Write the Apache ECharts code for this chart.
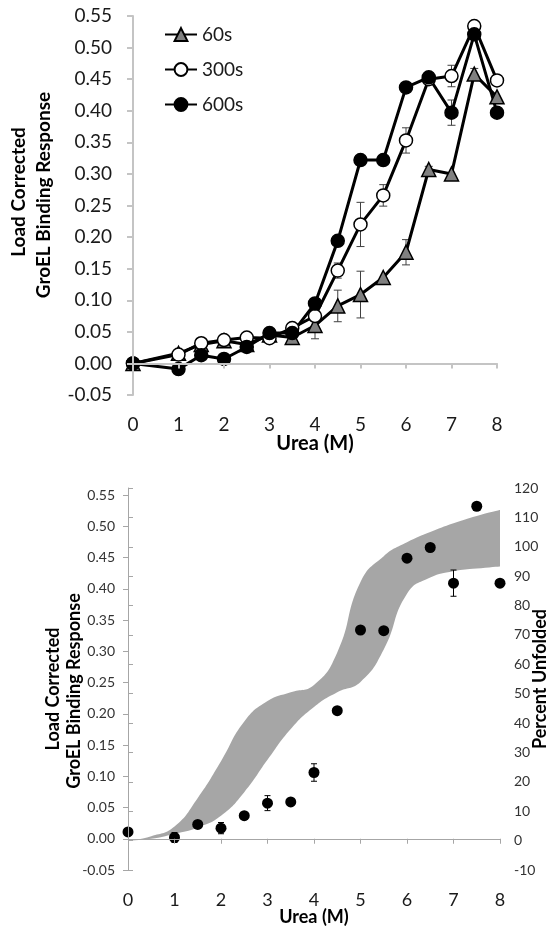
<!DOCTYPE html>
<html><head><meta charset="utf-8">
<script src="https://cdn.jsdelivr.net/npm/echarts@6/dist/echarts.min.js"></script>
<style>html,body{margin:0;padding:0;background:#fff}#c{width:555px;height:935px}</style>
</head><body><div id="c"></div>
<script>
// ---------- Top chart data ----------
const urea   = [0, 1, 1.5, 2, 2.5, 3, 3.5, 4, 4.5, 5, 5.5, 6, 6.5, 7, 7.5, 8];
const s60    = [0.000, 0.016, 0.030, 0.036, 0.030, 0.045, 0.041, 0.060, 0.091, 0.109, 0.136, 0.176, 0.307, 0.300, 0.458, 0.422];
const s60Err = [0, 0, 0, 0, 0, 0, 0, 0.021, 0.025, 0.037, 0, 0.020, 0.005, 0, 0.009, 0];
const s300   = [0.000, 0.014, 0.032, 0.037, 0.041, 0.040, 0.056, 0.075, 0.147, 0.220, 0.266, 0.353, 0.450, 0.455, 0.534, 0.448];
const s300Err= [0, 0, 0, 0, 0, 0.005, 0, 0, 0.012, 0.035, 0.017, 0.020, 0, 0.017, 0, 0];
const s600   = [0.000, -0.009, 0.013, 0.007, 0.026, 0.048, 0.048, 0.095, 0.194, 0.322, 0.322, 0.437, 0.453, 0.397, 0.521, 0.397];
const s600Err= [0, 0, 0, 0, 0, 0.007, 0, 0.007, 0, 0, 0, 0, 0, 0.020, 0, 0];
const seriesNames = ['60s', '300s', '600s'];

// ---------- Bottom chart data ----------
const bindX   = [0, 1, 1.5, 2, 2.5, 3, 3.5, 4, 4.5, 5, 5.5, 6, 6.5, 7, 7.5, 8];
const binding = [0.011, 0.002, 0.023, 0.017, 0.037, 0.057, 0.059, 0.106, 0.205, 0.334, 0.333, 0.449, 0.466, 0.409, 0.532, 0.409];
const bindErr = [0, 0.008, 0, 0.009, 0, 0.012, 0, 0.014, 0, 0, 0, 0.004, 0, 0.021, 0, 0];
const bandX     = [0, 0.5, 1, 1.5, 2, 2.5, 3, 3.5, 4, 4.5, 5, 5.5, 6, 6.5, 7, 7.5, 8];
const bandUpper = [0, 1.5, 4.8, 14.5, 27, 40.5, 47.5, 50.5, 53, 64, 88, 96.8, 101.5, 105, 108, 110.5, 112.5];
const bandLower = [0, 0.6, 2.3, 4.5, 8.5, 16.5, 27.5, 38, 45.5, 50.5, 54, 65, 84, 89.5, 91.7, 92.6, 93.3];

const FONT = 'Lato';

function errSeries(xs, ys, es, xi, yi, cap, color, z) {
  const data = xs.map((x, i) => [x, ys[i], es[i]]).filter(d => d[2] > 0);
  return {
    type: 'custom', xAxisIndex: xi, yAxisIndex: yi, silent: true, z: z,
    data: data,
    renderItem: function (params, api) {
      const x = api.value(0), y = api.value(1), e = api.value(2);
      const t = api.coord([x, y + e]), b = api.coord([x, y - e]);
      const w = cap / 2;
      const st = { stroke: color, lineWidth: 1 };
      return { type: 'group', children: [
        { type: 'line', shape: { x1: t[0], y1: t[1], x2: b[0], y2: b[1] }, style: st },
        { type: 'line', shape: { x1: t[0] - w, y1: t[1], x2: t[0] + w, y2: t[1] }, style: st },
        { type: 'line', shape: { x1: b[0] - w, y1: b[1], x2: b[0] + w, y2: b[1] }, style: st }
      ]};
    }
  };
}

function lineSeries(name, ys, symbol, size, fill) {
  return {
    name: name, type: 'line', xAxisIndex: 0, yAxisIndex: 0, z: 3,
    data: urea.map((x, i) => [x, ys[i]]),
    symbol: symbol, symbolSize: size, showAllSymbol: true,
    lineStyle: { color: '#000', width: 3 },
    itemStyle: { color: fill, borderColor: '#000', borderWidth: 1.5 },
    emphasis: { disabled: true }
  };
}

function bandEdge(ys, color, z) {
  return {
    type: 'line', xAxisIndex: 2, yAxisIndex: 2, smooth: 0.5,
    symbol: 'none', silent: true, z: z,
    data: bandX.map((x, i) => [x, ys[i]]),
    lineStyle: { width: 0, opacity: 0 },
    areaStyle: { color: color, opacity: 1, origin: 'start' },
    emphasis: { disabled: true }
  };
}

const chart = echarts.init(document.getElementById('c'), null, { renderer: 'canvas' });
const topAxisLine = { show: true, lineStyle: { color: '#c4c4c4', width: 2 } };
const botAxisLine = { show: true, lineStyle: { color: '#a6a6a6', width: 1 } };

chart.setOption({
  animation: false,
  backgroundColor: '#fff',
  textStyle: { fontFamily: FONT },
  grid: [
    { left: 133, right: 58, top: 16, bottom: 540 },
    { left: 128, right: 55, top: 495, bottom: 65 },
    { left: 128, right: 55, top: 488, bottom: 65 }
  ],
  legend: {
    data: seriesNames, orient: 'vertical', left: 159, top: 20,
    itemWidth: 32, itemHeight: 16, itemGap: 16,
    textStyle: { fontFamily: FONT, fontSize: 19, color: '#1a1a1a' },
    selectedMode: false
  },
  xAxis: [
    { gridIndex: 0, type: 'value', min: 0, max: 8, interval: 1, z: 10,
      axisLine: topAxisLine, axisTick: { show: true, length: 5, lineStyle: { color: '#c4c4c4', width: 2 } },
      axisLabel: { fontSize: 19, color: '#1a1a1a', margin: 20, fontFamily: FONT },
      splitLine: { show: false } },
    { gridIndex: 1, type: 'value', min: 0, max: 8, interval: 1, z: 10,
      axisLine: botAxisLine, axisTick: { show: true, length: 5, lineStyle: { color: '#a6a6a6' } },
      axisLabel: { fontSize: 18, color: '#1a1a1a', margin: 21, fontFamily: FONT },
      splitLine: { show: false } },
    { gridIndex: 2, type: 'value', min: 0, max: 8, interval: 1, show: false }
  ],
  yAxis: [
    { gridIndex: 0, type: 'value', min: -0.05, max: 0.55, interval: 0.05, z: 10,
      axisLine: topAxisLine, axisTick: { show: true, length: 6, lineStyle: { color: '#c4c4c4', width: 2 } },
      axisLabel: { fontSize: 19, color: '#1a1a1a', margin: 21, fontFamily: FONT, formatter: v => v.toFixed(2) },
      splitLine: { show: false } },
    { gridIndex: 1, type: 'value', min: -0.05, max: 0.55, interval: 0.05, z: 10,
      axisLine: botAxisLine, axisTick: { show: true, length: 5, lineStyle: { color: '#a6a6a6' } },
      axisLabel: { fontSize: 14, color: '#333', margin: 13, fontFamily: FONT, formatter: v => v.toFixed(2) },
      splitLine: { show: false } },
    { gridIndex: 2, type: 'value', position: 'right', min: -10, max: 120, interval: 10, z: 10,
      axisLine: botAxisLine, axisTick: { show: true, length: 5, lineStyle: { color: '#a6a6a6' } },
      axisLabel: { fontSize: 14, color: '#333', margin: 14, fontFamily: FONT },
      splitLine: { show: false } }
  ],
  series: [
    errSeries(urea, s60, s60Err, 0, 0, 8, '#404040', 1),
    errSeries(urea, s300, s300Err, 0, 0, 8, '#404040', 1),
    errSeries(urea, s600, s600Err, 0, 0, 8, '#404040', 1),
    lineSeries('60s', s60, 'triangle', 14, '#808080'),
    lineSeries('300s', s300, 'circle', 13, '#ffffff'),
    lineSeries('600s', s600, 'circle', 13, '#000000'),
    // band (percent unfolded, right axis): grey under upper edge, white under lower edge
    bandEdge(bandUpper, '#a6a6a6', 1),
    bandEdge(bandLower, '#ffffff', 2),
    errSeries(bindX, binding, bindErr, 1, 1, 6, '#000', 4),
    { type: 'scatter', xAxisIndex: 1, yAxisIndex: 1, z: 5, symbol: 'circle', symbolSize: 11,
      data: bindX.map((x, i) => [x, binding[i]]), itemStyle: { color: '#000', opacity: 1 },
      emphasis: { disabled: true } }
  ],
  graphic: [
    { type: 'text', x: 19, y: 192, rotation: Math.PI / 2,
      style: { text: 'Load Corrected', font: 'bold 19px ' + FONT, fill: '#000', align: 'center', verticalAlign: 'middle' } },
    { type: 'text', x: 44, y: 195, rotation: Math.PI / 2,
      style: { text: 'GroEL Binding Response', font: 'bold 19px ' + FONT, fill: '#000', align: 'center', verticalAlign: 'middle' } },
    { type: 'text', x: 315, y: 444,
      style: { text: 'Urea (M)', font: 'bold 20px ' + FONT, fill: '#000', align: 'center', verticalAlign: 'middle' } },
    { type: 'text', x: 53, y: 689, rotation: Math.PI / 2,
      style: { text: 'Load Corrected', font: 'bold 18px ' + FONT, fill: '#000', align: 'center', verticalAlign: 'middle' } },
    { type: 'text', x: 74, y: 691, rotation: Math.PI / 2,
      style: { text: 'GroEL Binding Response', font: 'bold 18px ' + FONT, fill: '#000', align: 'center', verticalAlign: 'middle' } },
    { type: 'text', x: 540, y: 679, rotation: Math.PI / 2,
      style: { text: 'Percent Unfolded', font: 'bold 18px ' + FONT, fill: '#000', align: 'center', verticalAlign: 'middle' } },
    { type: 'text', x: 314, y: 917,
      style: { text: 'Urea (M)', font: 'bold 18px ' + FONT, fill: '#000', align: 'center', verticalAlign: 'middle' } }
  ]
});
</script></body></html>
